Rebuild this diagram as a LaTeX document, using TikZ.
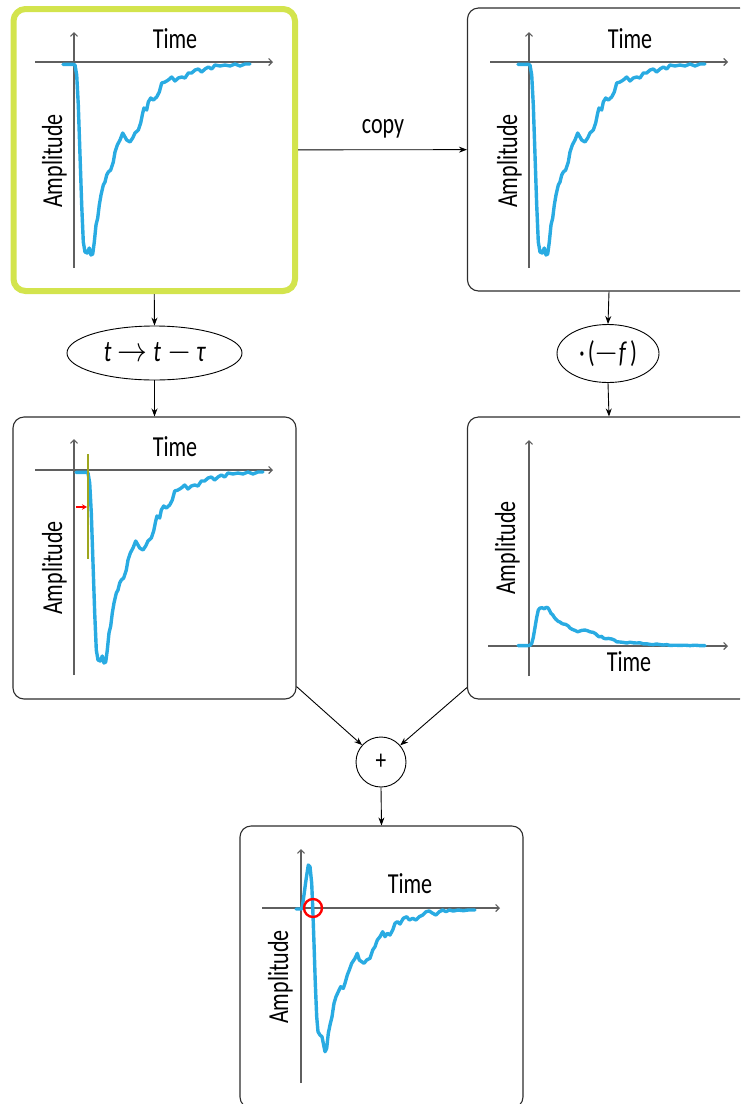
\documentclass[tikz,border=0pt]{standalone}
\usepackage{fontspec}
\setmainfont{Carlito}[FakeStretch=0.76]
\usetikzlibrary{arrows.meta,shapes.geometric,calc}

\definecolor{sigblue}{RGB}{41,171,226}
\definecolor{limeframe}{RGB}{211,228,77}
\definecolor{axisgray}{RGB}{95,95,95}
\definecolor{framegray}{RGB}{45,45,45}
\definecolor{shiftolive}{RGB}{158,166,30}

% arrow and minus glyphs for the operation labels
\newcommand\oparrow{\scalebox{1.2}[1.4]{$\rightarrow$}}
\newcommand\opminus{\scalebox{1.25}[1.4]{$-$}}

% measured pulse, local coordinates: origin at the axes crossing, v pointing down
\newcommand\pulsepath{(-11,2.3) -- (-1,2.3) -- (1,3) -- (2.7,13) -- (4.3,43) -- (6,93) -- (7.7,143) -- (9.3,180) -- (11,190) -- (13.3,191) -- (15.3,186) -- (17,193) -- (18.7,192) -- (20.3,180) -- (22,163) -- (23.7,156) -- (25.3,143) -- (27,133) -- (29.3,123) -- (31,120) -- (32.7,113) -- (34.3,110) -- (36.7,108) -- (39.3,100) -- (41,90) -- (43.3,83) -- (46,78) -- (48.7,71) -- (51,75) -- (52.7,78) -- (56,80) -- (58.7,76) -- (61,71) -- (64.3,68) -- (66.7,61) -- (68.7,51) -- (70,46) -- (72.7,48) -- (74.3,40) -- (76.7,36) -- (79.3,38) -- (82.7,35) -- (85.3,30) -- (87.7,21) -- (91,20) -- (94.3,18) -- (97.7,15) -- (101,19) -- (104.3,16) -- (107.7,15) -- (111,16) -- (114.3,11) -- (117.7,11) -- (121,8) -- (124.3,7) -- (127.7,10) -- (131,7) -- (134.3,5) -- (137.7,7) -- (141,3) -- (146,4) -- (151,3) -- (156,4) -- (161,2) -- (166,4) -- (171,2) -- (176,2)}

% corrected pulse after subtraction
\newcommand\sumpath{(-5,1) -- (0.7,1) -- (2.3,-8) -- (5,-28) -- (7.3,-43) -- (9,-41.3) -- (10.7,-24.7) -- (11.7,-1.3) -- (13,35.3) -- (14.3,75.3) -- (15.7,108.7) -- (17,123.7) -- (19,127) -- (21,128.7) -- (22.3,135.3) -- (24,143.7) -- (25.7,140.3) -- (27.3,125.3) -- (29,117) -- (31,108.7) -- (33,95.3) -- (35,88.7) -- (37.3,83.7) -- (39.7,78.7) -- (42.3,80.3) -- (44,75.3) -- (46.3,67) -- (48.3,62) -- (50.7,55.3) -- (54,50.3) -- (56.3,45.3) -- (58.3,52) -- (60.7,53.7) -- (63,55.3) -- (65.7,52) -- (69,50.3) -- (71.7,42) -- (74,38.7) -- (76.3,32) -- (79,28.7) -- (81.7,23.7) -- (84,28.7) -- (86.3,25.3) -- (89,27) -- (91.7,22) -- (94,15.3) -- (96.3,13.7) -- (99,16) -- (102.3,10.3) -- (105.7,8.7) -- (108.3,12) -- (111.7,10.3) -- (115,12) -- (118.3,8.7) -- (121.7,7) -- (125,3.7) -- (128.3,3) -- (131.7,5.3) -- (135,7) -- (138.3,3.7) -- (141.7,2) -- (145,3.7) -- (148.3,2) -- (152.3,3) -- (157.3,2) -- (162.3,2.7) -- (167.3,2) -- (174,2)}

\begin{document}
\begin{tikzpicture}[x=1pt,y=-1pt,
  frame/.style={rectangle,draw=framegray,line width=1.1pt,rounded corners=11pt,
    minimum width=283pt,minimum height=282pt,inner sep=0pt},
  opnode/.style={ellipse,draw=black,line width=0.9pt,inner sep=0pt,
    font=\fontsize{30}{34}\selectfont},
  conn/.style={draw=black,line width=0.9pt,-{Stealth[length=8pt,width=6pt]}},
  axis/.style={draw=axisgray,line width=1.2pt,-{Straight Barb[length=3.5pt,width=7pt]}},
  sig/.style={draw=sigblue,line width=3.4pt,line join=round,line cap=round},
  lbl/.style={inner sep=0pt,font=\fontsize{29}{34}\selectfont},
  vlbl/.style={lbl,rotate=90,anchor=base}
]
\useasboundingbox (0,0) rectangle (740,1104);
\clip (0,0) rectangle (740,1104);

% frames
\node[frame,draw=limeframe,line width=6pt,rounded corners=12pt,
      minimum width=281.5pt,minimum height=282pt] (A) at (154.25,150) {};
\node[frame,minimum height=283pt] (B) at (609,149.5) {};
\node[frame] (C) at (154.5,558) {};
\node[frame] (D) at (609,558) {};
\node[frame] (E) at (381.5,967) {};

% operation nodes
\node[opnode,minimum width=175pt,minimum height=54pt] (shift) at (154.5,353)
  {\itshape t\/\hspace{6pt}\upshape\oparrow\hspace{6pt}\itshape t\/\hspace{6pt}\upshape\opminus\hspace{5pt}\itshape τ};
\node[opnode,minimum width=102pt,minimum height=58pt] (scale) at (608,353.5)
  {·\hspace{3pt}(\opminus\itshape f\/\upshape\hspace{3pt})};
\node[circle,draw=black,line width=0.9pt,minimum size=50pt,inner sep=0pt,
      font=\fontsize{28}{32}\selectfont] (plus) at (381,762) {+};

% plot A: original pulse
\begin{scope}[shift={(74,62)}]
  \draw[axis] (-39,0) -- (199,0);
  \draw[axis] (0,206) -- (0,-30);
  \draw[sig] \pulsepath;
\end{scope}
\node[lbl,anchor=base] (timeA) at (175,48) {Time};
\node[vlbl] (ampA) at (62,161) {Amplitude};

% plot B: copy
\begin{scope}[shift={(529,62)}]
  \draw[axis] (-39,0) -- (199,0);
  \draw[axis] (0,206) -- (0,-30);
  \draw[sig] \pulsepath;
\end{scope}
\node[lbl,anchor=base] (timeB) at (630,48) {Time};
\node[vlbl] (ampB) at (517,161) {Amplitude};

% plot C: delayed pulse
\begin{scope}[shift={(74,470)}]
  \draw[axis] (-39,0) -- (199,0);
  \draw[axis] (0,205) -- (0,-31);
\end{scope}
\begin{scope}[shift={(87,470)}]
  \draw[sig] \pulsepath;
\end{scope}
\draw[shiftolive,line width=2.5pt] (88,454) -- (88,559);
\draw[red,line width=1.8pt,-{Stealth[length=5pt,width=5.5pt]}] (76,507) -- (87,507);
\node[lbl,anchor=base] (timeC) at (175,456) {Time};
\node[vlbl] (ampC) at (62,568) {Amplitude};

% plot D: scaled, inverted copy
\begin{scope}[shift={(529,646)}]
  \draw[axis] (-41,0) -- (199,0);
  \draw[axis] (0,30) -- (0,-206);
\end{scope}
\begin{scope}[shift={(529,646)},yscale=-0.2]
  \draw[sig] \pulsepath;
\end{scope}
\node[lbl,anchor=base] (timeD) at (629,671) {Time};
\node[vlbl] (ampD) at (515,548) {Amplitude};

% plot E: sum
\begin{scope}[shift={(301,908)}]
  \draw[axis] (-39,0) -- (199,0);
  \draw[axis] (0,175) -- (0,-59);
  \draw[sig] \sumpath;
\end{scope}
\draw[red,line width=2.4pt] (313,908) circle[radius=9];
\node[lbl,anchor=base] (timeE) at (410,893) {Time};
\node[vlbl] (ampE) at (288,977) {Amplitude};

% connectors
\draw[conn] (A) -- (B);
\node[lbl,anchor=base] (copylbl) at (383,133) {copy};
\draw[conn] (A.south) -- (shift.north);
\draw[conn] (shift.south) -- (C.north);
\draw[conn] (B.south) -- (scale.north);
\draw[conn] (scale.south) -- (D.north);
\coordinate (cout) at ($(C.south east)+(0,-13)$);
\coordinate (dout) at ($(D.south west)+(0,-12)$);
\draw[conn] (cout) -- (plus);
\draw[conn] (dout) -- (plus);
\draw[conn] (plus.south) -- (E.north);
\end{tikzpicture}
\end{document}
